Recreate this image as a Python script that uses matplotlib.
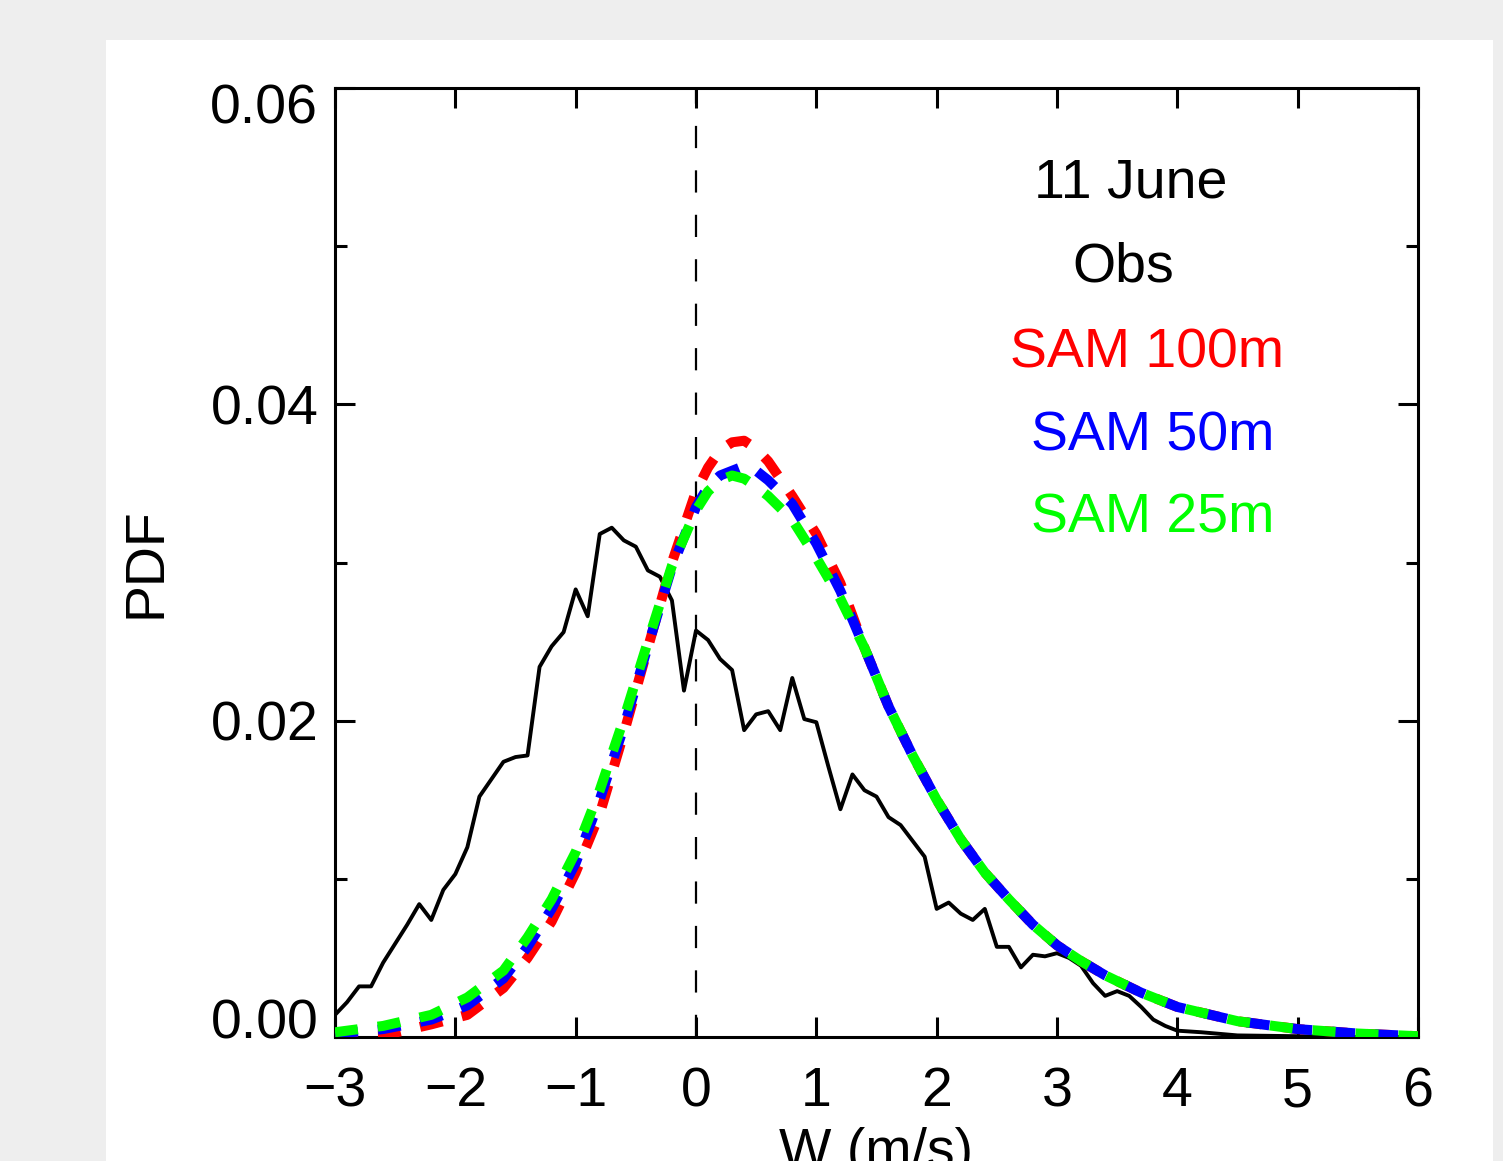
import matplotlib
matplotlib.use('Agg')
import matplotlib.pyplot as plt
import matplotlib.transforms as mtransforms
from matplotlib.patches import Rectangle

plt.rcParams['font.family'] = ['Liberation Sans', 'DejaVu Sans']

# Observed PDF of vertical velocity
obs_w = [-3.0, -2.9, -2.8, -2.7, -2.6, -2.5, -2.4, -2.3, -2.2, -2.1,
         -2.0, -1.9, -1.8, -1.7, -1.6, -1.5, -1.4, -1.3, -1.2, -1.1,
         -1.0, -0.9, -0.8, -0.7, -0.6, -0.5, -0.4, -0.3, -0.2, -0.1,
         0.0, 0.1, 0.2, 0.3, 0.4, 0.5, 0.6, 0.7, 0.8, 0.9,
         1.0, 1.1, 1.2, 1.3, 1.4, 1.5, 1.6, 1.7, 1.8, 1.9,
         2.0, 2.1, 2.2, 2.3, 2.4, 2.5, 2.6, 2.7, 2.8, 2.9,
         3.0, 3.1, 3.2, 3.3, 3.4, 3.5, 3.6, 3.7, 3.8, 3.9,
         4.0, 4.2, 4.5, 5.0, 5.5, 6.0]
obs_pdf = [0.0014, 0.0022, 0.0032, 0.0032, 0.0047, 0.0059, 0.0071, 0.0084, 0.0074, 0.0093,
           0.0103, 0.0120, 0.0152, 0.0163, 0.0174, 0.0177, 0.0178, 0.0234, 0.0247, 0.0256,
           0.0283, 0.0266, 0.0318, 0.0322, 0.0314, 0.0310, 0.0295, 0.0291, 0.0276, 0.0219,
           0.0257, 0.0251, 0.0239, 0.0232, 0.0194, 0.0204, 0.0206, 0.0194, 0.0227, 0.0201,
           0.0199, 0.0171, 0.0144, 0.0166, 0.0156, 0.0152, 0.0139, 0.0134, 0.0124, 0.0114,
           0.0081, 0.0085, 0.0078, 0.0074, 0.0081, 0.0057, 0.0057, 0.0044, 0.0052, 0.0051,
           0.0053, 0.0050, 0.0045, 0.0034, 0.0026, 0.0029, 0.0026, 0.0019, 0.0011, 0.0007,
           0.0004, 0.0003, 0.0001, 0.00005, 0.0, 0.0]

# SAM model PDFs
sam_w = [-3.0, -2.6, -2.2, -1.9, -1.6, -1.4, -1.2, -1.0, -0.8, -0.6,
         -0.4, -0.2, 0.0, 0.1, 0.2, 0.3, 0.4, 0.5, 0.6, 0.8,
         1.0, 1.2, 1.4, 1.6, 1.8, 2.0, 2.2, 2.4, 2.6, 2.8,
         3.0, 3.2, 3.4, 3.7, 4.0, 4.5, 5.0, 5.5, 6.0]
tail = [0.0246, 0.0209, 0.0178, 0.0150, 0.0125, 0.0104, 0.0087, 0.0071,
        0.0058, 0.0048, 0.0039, 0.0028, 0.0019, 0.0010, 0.0005, 0.00022, 0.00005]
sam_100m = [0.0000, 0.0001, 0.0008, 0.0014, 0.0031, 0.0050, 0.0073, 0.0104, 0.0141, 0.0192,
            0.0246, 0.0300, 0.0345, 0.0360, 0.0371, 0.0376, 0.0377, 0.0372, 0.0364, 0.0342,
            0.0318, 0.0287] + tail
sam_50m = [0.0002, 0.0005, 0.0011, 0.0020, 0.0037, 0.0057, 0.0081, 0.0110, 0.0150, 0.0196,
           0.0247, 0.0297, 0.0335, 0.0348, 0.0355, 0.0358, 0.0361, 0.0358, 0.0352, 0.0337,
           0.0312, 0.0282] + tail
sam_25m = [0.0003, 0.0007, 0.0014, 0.0025, 0.0042, 0.0063, 0.0087, 0.0117, 0.0156, 0.0201,
           0.0250, 0.0298, 0.0333, 0.0345, 0.0352, 0.0355, 0.0353, 0.0348, 0.0342, 0.0327,
           0.0303, 0.0277] + tail

W, H = 1503, 1161
fig = plt.figure(figsize=(W / 100, H / 100), dpi=100, facecolor='#eeeeee')
fig.patches.append(Rectangle((106 / W, 0), (1493 - 106) / W, (H - 40) / H,
                             transform=fig.transFigure, facecolor='white',
                             edgecolor='none', zorder=-10))
ax = fig.add_axes([335 / W, (H - 1037) / H, 1083 / W, 949 / H])

ax.axvline(0, color='black', lw=1.6, ls=(0, (10, 10)), zorder=1)
ax.plot(obs_w, obs_pdf, color='black', lw=2.8, zorder=2)
dash = (0, (2.3, 2.0))
ax.plot(sam_w, sam_100m, color='#ff0000', lw=7.2, ls=dash, zorder=3)
ax.plot(sam_w, sam_50m, color='#0000ff', lw=7.2, ls=dash, zorder=4)
ax.plot(sam_w, sam_25m, color='#00ff00', lw=7.2, ls=dash, zorder=5)

ax.set_xlim(-3, 6)
ax.set_ylim(0, 0.06)
ax.set_xticks(range(-3, 7))
ax.set_xticklabels([str(v).replace('-', '\u2212') for v in range(-3, 7)])
ax.set_yticks([0.0, 0.02, 0.04, 0.06])
ax.set_yticklabels(['0.00', '0.02', '0.04', '0.06'])
ax.set_yticks([0.01, 0.03, 0.05], minor=True)
ax.tick_params(which='both', direction='in', top=True, right=True, width=2.2,
               labelsize=40)
ax.tick_params(which='major', length=14.4)
ax.tick_params(which='minor', length=8.6)
ax.tick_params(axis='x', pad=21)
ax.tick_params(axis='y', pad=12)
for s in ax.spines.values():
    s.set_linewidth(2.2)

ax.set_xlabel('W (m/s)', fontsize=40)
ax.set_ylabel('PDF', fontsize=40)
ax.xaxis.set_label_coords(0.5, -0.095)
ax.yaxis.set_label_coords(-0.1505, 0.5)

# shift the end labels inward like the original
ylabs = ax.get_yticklabels()
ylabs[0].set_transform(ylabs[0].get_transform() +
                       mtransforms.ScaledTranslation(0, 13 / 72, fig.dpi_scale_trans))
ylabs[-1].set_transform(ylabs[-1].get_transform() +
                        mtransforms.ScaledTranslation(0, -10.8 / 72, fig.dpi_scale_trans))

labels = ['11 June', 'Obs', 'SAM 100m', 'SAM 50m', 'SAM 25m']
colors = ['black', 'black', '#ff0000', '#0000ff', '#00ff00']
xs = [0.735, 0.7276, 0.7498, 0.7553, 0.7553]
ys = [0.8841, 0.7956, 0.7060, 0.6185, 0.5311]
for t, c, x, y in zip(labels, colors, xs, ys):
    ax.text(x, y, t, color=c, fontsize=40, ha='center', va='baseline',
            transform=ax.transAxes)

fig.savefig('out.png', dpi=100, facecolor=fig.get_facecolor())
